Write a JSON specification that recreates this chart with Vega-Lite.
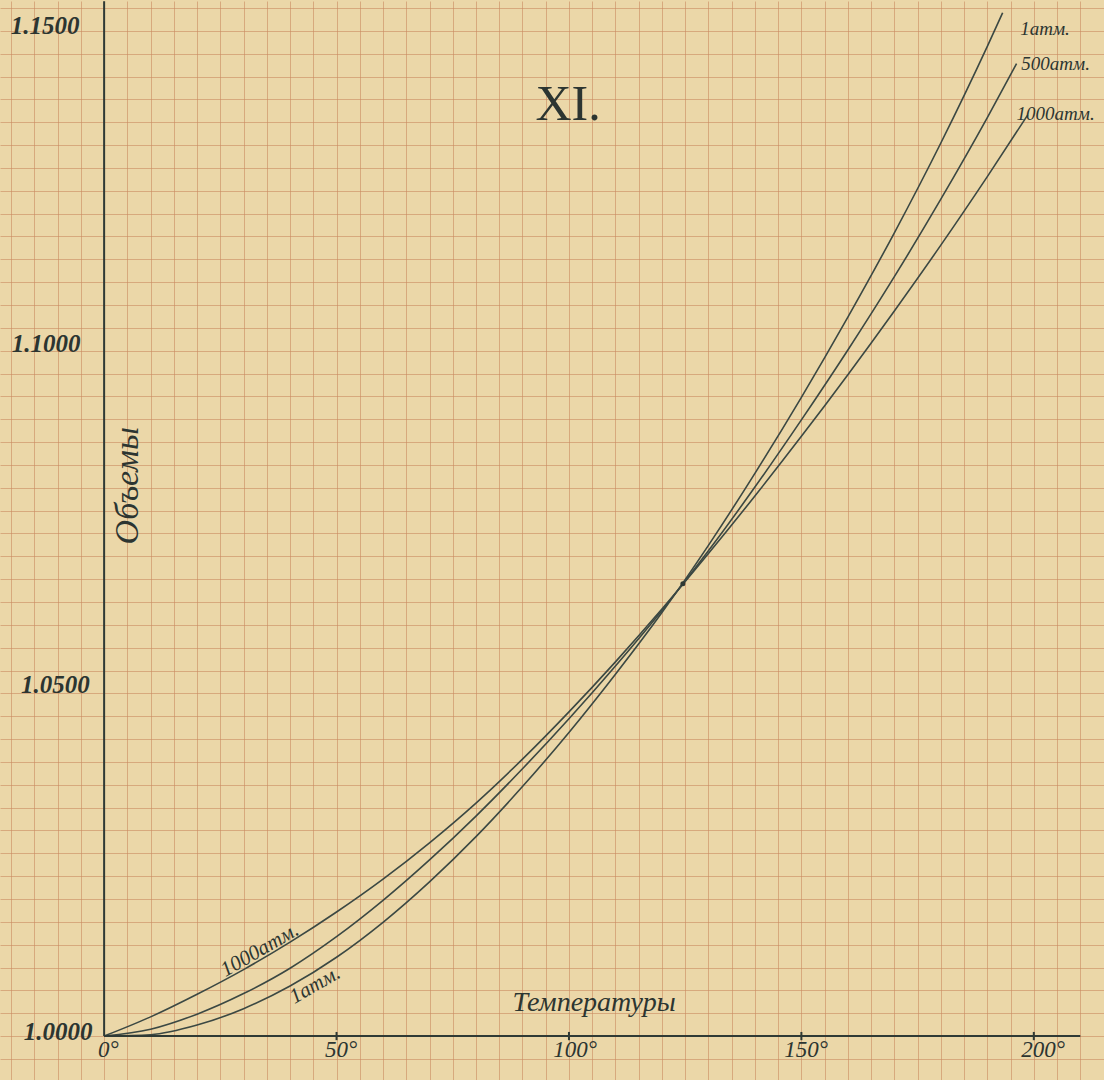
{
  "$schema": "https://vega.github.io/schema/vega-lite/v6.json",
  "width": 1104,
  "height": 1080,
  "autosize": {"type": "fit", "contains": "padding"},
  "padding": 0,
  "background": "#ebd7a8",
  "config": {
    "view": {"stroke": null},
    "axis": {
      "grid": true,
      "labels": false,
      "ticks": false,
      "domain": false,
      "title": null,
      "gridColor": "#c98a60",
      "gridWidth": 1,
      "gridOpacity": 0.6
    }
  },
  "datasets": {
    "curves": [
      {"p": "1 атм", "T": 0, "V": 1.0},
      {"p": "1 атм", "T": 10, "V": 1.0002},
      {"p": "1 атм", "T": 20, "V": 1.0016},
      {"p": "1 атм", "T": 30, "V": 1.004},
      {"p": "1 атм", "T": 40, "V": 1.0073},
      {"p": "1 атм", "T": 50, "V": 1.0115},
      {"p": "1 атм", "T": 60, "V": 1.0166},
      {"p": "1 атм", "T": 70, "V": 1.0225},
      {"p": "1 атм", "T": 80, "V": 1.0291},
      {"p": "1 атм", "T": 90, "V": 1.0364},
      {"p": "1 атм", "T": 100, "V": 1.0443},
      {"p": "1 атм", "T": 110, "V": 1.0528},
      {"p": "1 атм", "T": 120, "V": 1.0618},
      {"p": "1 атм", "T": 130, "V": 1.0716},
      {"p": "1 атм", "T": 140, "V": 1.0821},
      {"p": "1 атм", "T": 150, "V": 1.0932},
      {"p": "1 атм", "T": 160, "V": 1.1049},
      {"p": "1 атм", "T": 170, "V": 1.1172},
      {"p": "1 атм", "T": 180, "V": 1.1303},
      {"p": "1 атм", "T": 190, "V": 1.1444},
      {"p": "1 атм", "T": 193.3, "V": 1.1493},
      {"p": "500 атм", "T": 0, "V": 1.0},
      {"p": "500 атм", "T": 10, "V": 1.001},
      {"p": "500 атм", "T": 20, "V": 1.0032},
      {"p": "500 атм", "T": 30, "V": 1.0062},
      {"p": "500 атм", "T": 40, "V": 1.0099},
      {"p": "500 атм", "T": 50, "V": 1.0145},
      {"p": "500 атм", "T": 60, "V": 1.0198},
      {"p": "500 атм", "T": 70, "V": 1.0257},
      {"p": "500 атм", "T": 80, "V": 1.0321},
      {"p": "500 атм", "T": 90, "V": 1.039},
      {"p": "500 атм", "T": 100, "V": 1.0463},
      {"p": "500 атм", "T": 110, "V": 1.054},
      {"p": "500 атм", "T": 120, "V": 1.0621},
      {"p": "500 атм", "T": 130, "V": 1.0708},
      {"p": "500 атм", "T": 140, "V": 1.0801},
      {"p": "500 атм", "T": 150, "V": 1.0899},
      {"p": "500 атм", "T": 160, "V": 1.1001},
      {"p": "500 атм", "T": 170, "V": 1.1108},
      {"p": "500 атм", "T": 180, "V": 1.1221},
      {"p": "500 атм", "T": 190, "V": 1.134},
      {"p": "500 атм", "T": 196.3, "V": 1.1419},
      {"p": "1000 атм", "T": 0, "V": 1.0},
      {"p": "1000 атм", "T": 10, "V": 1.0028},
      {"p": "1000 атм", "T": 20, "V": 1.0061},
      {"p": "1000 атм", "T": 30, "V": 1.0097},
      {"p": "1000 атм", "T": 40, "V": 1.0137},
      {"p": "1000 атм", "T": 50, "V": 1.0181},
      {"p": "1000 атм", "T": 60, "V": 1.0229},
      {"p": "1000 атм", "T": 70, "V": 1.0282},
      {"p": "1000 атм", "T": 80, "V": 1.034},
      {"p": "1000 атм", "T": 90, "V": 1.0404},
      {"p": "1000 атм", "T": 100, "V": 1.0473},
      {"p": "1000 атм", "T": 110, "V": 1.0546},
      {"p": "1000 атм", "T": 120, "V": 1.0623},
      {"p": "1000 атм", "T": 130, "V": 1.0704},
      {"p": "1000 атм", "T": 140, "V": 1.0788},
      {"p": "1000 атм", "T": 150, "V": 1.0875},
      {"p": "1000 атм", "T": 160, "V": 1.0965},
      {"p": "1000 атм", "T": 170, "V": 1.1058},
      {"p": "1000 атм", "T": 180, "V": 1.1154},
      {"p": "1000 атм", "T": 190, "V": 1.1254},
      {"p": "1000 атм", "T": 198.7, "V": 1.1344}
    ],
    "vrules": [
      {"T": 0, "V": 1.0, "V2": 1.151},
      {"T": 50, "V": 0.9994, "V2": 1.0006},
      {"T": 100, "V": 0.9994, "V2": 1.0006},
      {"T": 150, "V": 0.9994, "V2": 1.0006},
      {"T": 200, "V": 0.9994, "V2": 1.0006}
    ],
    "hrules": [
      {"T": 0, "T2": 210, "V": 1.0}
    ],
    "cross": [
      {"T": 124.5, "V": 1.066}
    ],
    "ylabels": [
      {"T": -12.7, "V": 1.1474, "txt": "1.1500"},
      {"T": -12.5, "V": 1.101, "txt": "1.1000"},
      {"T": -10.5, "V": 1.0512, "txt": "1.0500"},
      {"T": -9.9, "V": 1.00058, "txt": "1.0000"}
    ],
    "xlabels": [
      {"T": 0.9, "V": 0.99796, "txt": "0°"},
      {"T": 51, "V": 0.99796, "txt": "50°"},
      {"T": 101.3, "V": 0.99796, "txt": "100°"},
      {"T": 151, "V": 0.99796, "txt": "150°"},
      {"T": 202, "V": 0.99796, "txt": "200°"}
    ],
    "endlabels": [
      {"T": 202.4, "V": 1.1469, "txt": "1атм."},
      {"T": 204.7, "V": 1.1418, "txt": "500атм."},
      {"T": 204.7, "V": 1.1345, "txt": "1000атм."}
    ],
    "slanted": [
      {"T": 33.5, "V": 1.01254, "txt": "1000атм."},
      {"T": 45.4, "V": 1.00743, "txt": "1атм."}
    ],
    "title": [
      {"T": 99.8, "V": 1.1359, "txt": "XI."}
    ],
    "xtitle": [
      {"T": 105.4, "V": 1.0048, "txt": "Температуры"}
    ],
    "ytitle": [
      {"T": 5.2, "V": 1.0803, "txt": "Объемы"}
    ]
  },
  "encoding": {
    "x": {
      "field": "T",
      "type": "quantitative",
      "scale": {"domain": [-22.4, 215.1], "nice": false, "zero": false},
      "axis": {"values": [-20, -15, -10, -5, 0, 5, 10, 15, 20, 25, 30, 35, 40, 45, 50, 55, 60, 65, 70, 75, 80, 85, 90, 95, 100, 105, 110, 115, 120, 125, 130, 135, 140, 145, 150, 155, 160, 165, 170, 175, 180, 185, 190, 195, 200, 205, 210, 215]}
    },
    "y": {
      "field": "V",
      "type": "quantitative",
      "scale": {"domain": [0.99359, 1.15102], "nice": false, "zero": false},
      "axis": {"values": [0.993333, 0.996667, 1, 1.003333, 1.006667, 1.01, 1.013333, 1.016667, 1.02, 1.023333, 1.026667, 1.03, 1.033333, 1.036667, 1.04, 1.043333, 1.046667, 1.05, 1.053333, 1.056667, 1.06, 1.063333, 1.066667, 1.07, 1.073333, 1.076667, 1.08, 1.083333, 1.086667, 1.09, 1.093333, 1.096667, 1.1, 1.103333, 1.106667, 1.11, 1.113333, 1.116667, 1.12, 1.123333, 1.126667, 1.13, 1.133333, 1.136667, 1.14, 1.143333, 1.146667, 1.15]}
    }
  },
  "layer": [
    {
      "data": {"name": "curves"},
      "mark": {"type": "line", "interpolate": "monotone", "color": "#3b4843", "strokeWidth": 1.6},
      "encoding": {"detail": {"field": "p"}}
    },
    {
      "data": {"name": "vrules"},
      "mark": {"type": "rule", "color": "#2f3a35", "strokeWidth": 2},
      "encoding": {"y2": {"field": "V2"}}
    },
    {
      "data": {"name": "hrules"},
      "mark": {"type": "rule", "color": "#2f3a35", "strokeWidth": 2},
      "encoding": {"x2": {"field": "T2"}}
    },
    {
      "data": {"name": "cross"},
      "mark": {"type": "point", "filled": true, "color": "#2f3a35", "size": 25, "opacity": 1}
    },
    {
      "data": {"name": "ylabels"},
      "mark": {"type": "text", "font": "Liberation Serif", "fontStyle": "italic", "fontWeight": "bold", "fontSize": 25, "color": "#2c3531", "align": "center", "baseline": "middle"},
      "encoding": {"text": {"field": "txt"}}
    },
    {
      "data": {"name": "xlabels"},
      "mark": {"type": "text", "font": "Liberation Serif", "fontStyle": "italic", "fontSize": 23, "color": "#2c3531", "align": "center", "baseline": "middle"},
      "encoding": {"text": {"field": "txt"}}
    },
    {
      "data": {"name": "endlabels"},
      "mark": {"type": "text", "font": "Liberation Serif", "fontStyle": "italic", "fontSize": 19, "color": "#2c3531", "align": "center", "baseline": "middle"},
      "encoding": {"text": {"field": "txt"}}
    },
    {
      "data": {"name": "slanted"},
      "mark": {"type": "text", "font": "Liberation Serif", "fontStyle": "italic", "fontSize": 21, "color": "#2c3531", "align": "center", "baseline": "middle", "angle": -30},
      "encoding": {"text": {"field": "txt"}}
    },
    {
      "data": {"name": "title"},
      "mark": {"type": "text", "font": "Liberation Serif", "fontSize": 50, "color": "#2c3531", "align": "center", "baseline": "middle"},
      "encoding": {"text": {"field": "txt"}}
    },
    {
      "data": {"name": "xtitle"},
      "mark": {"type": "text", "font": "Liberation Serif", "fontStyle": "italic", "fontSize": 28, "color": "#2c3531", "align": "center", "baseline": "middle"},
      "encoding": {"text": {"field": "txt"}}
    },
    {
      "data": {"name": "ytitle"},
      "mark": {"type": "text", "font": "Liberation Serif", "fontStyle": "italic", "fontSize": 34, "color": "#2c3531", "align": "center", "baseline": "middle", "angle": -90},
      "encoding": {"text": {"field": "txt"}}
    }
  ]
}
